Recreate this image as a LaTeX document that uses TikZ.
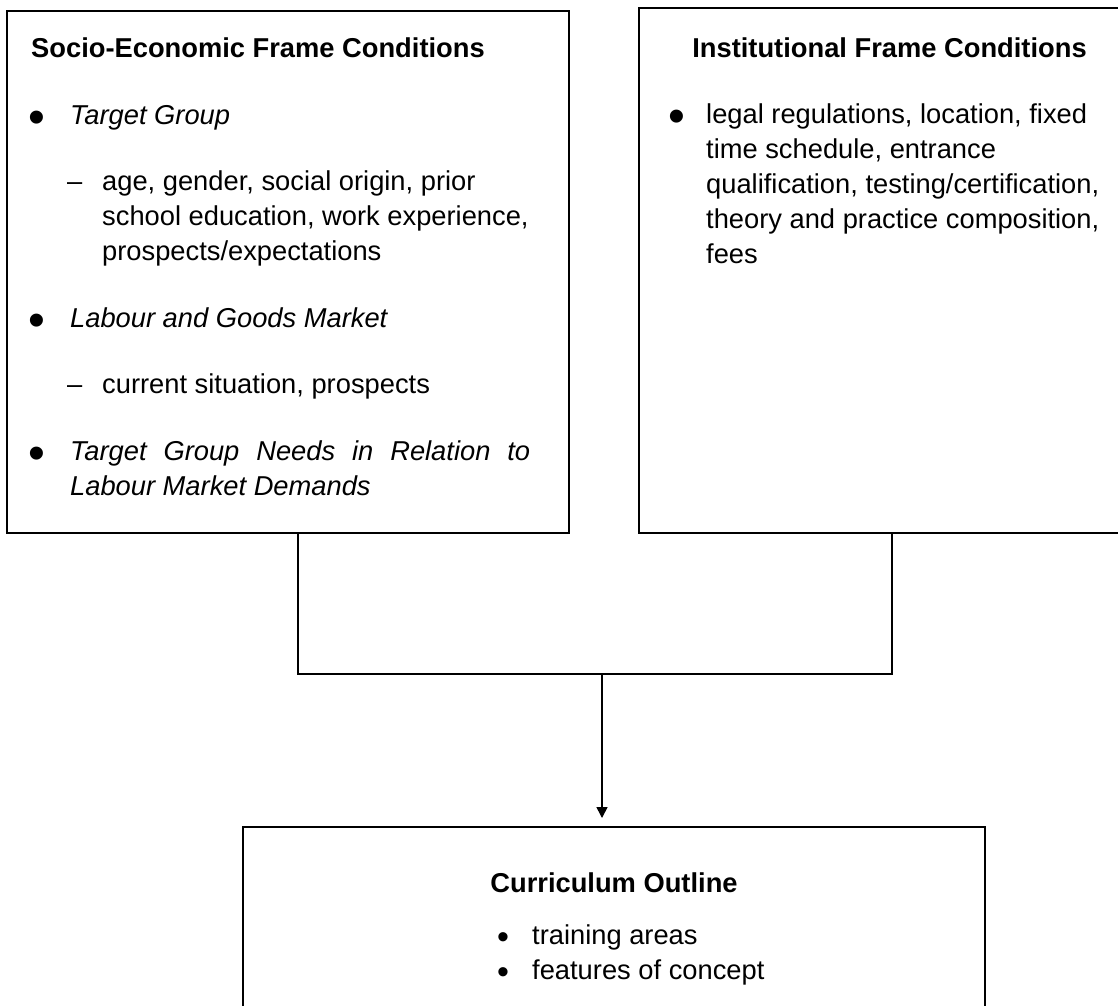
\documentclass[tikz,border=0pt]{standalone}
\usepackage{fontspec}
\setmainfont{Liberation Sans}
\usetikzlibrary{arrows.meta}
\newcommand{\mybul}{\smash{•}}
\begin{document}
\begin{tikzpicture}[x=1pt,y=-1pt,
  box/.style={draw, line width=1.6pt, rectangle, inner sep=0pt, anchor=north west},
  txt/.style={anchor=base west, inner sep=0pt, font=\fontsize{27.3}{35}\selectfont},
  ttl/.style={txt, font=\fontsize{27.3}{35}\selectfont\bfseries},
  itx/.style={txt, font=\fontsize{27.3}{35}\selectfont\itshape},
  bul/.style={anchor=base, inner sep=0pt, font=\fontsize{48}{50}\selectfont},
  sbul/.style={anchor=base, inner sep=0pt, font=\fontsize{34}{35}\selectfont},
  dsh/.style={txt},
  conn/.style={line width=1.6pt},
  arr/.style={conn, -{Triangle[length=11pt,width=11pt]}, shorten >=8pt},
]
\useasboundingbox (0,0) rectangle (1118,1005);
\clip (0,0) rectangle (1118,1005);
\fill[white] (0,0) rectangle (1118,1005);

% boxes
\node[box, minimum width=562pt, minimum height=522pt] (lbox) at (6,10) {};
\node[box, minimum width=503pt, minimum height=525pt] (rbox) at (638,7) {};
\node[box, minimum width=742pt, minimum height=230pt] (bbox) at (242,826) {};

% left box text
\node[ttl] (lt) at (31,57) {Socio-Economic Frame Conditions};
\node[bul] (lb1) at (37,133) {\mybul};
\node[itx] (l1) at (70,124) {Target Group};
\node[dsh] (ld1) at (67,190) {–};
\node[txt] (l1a) at (102,190) {age, gender, social origin, prior};
\node[txt] (l1b) at (102,225) {school education, work experience,};
\node[txt] (l1c) at (102,260) {prospects/expectations};
\node[bul] (lb2) at (37,336) {\mybul};
\node[itx] (l2) at (70,327) {Labour and Goods Market};
\node[dsh] (ld2) at (67,393) {–};
\node[txt] (l2a) at (102,393) {current situation, prospects};
\node[bul] (lb3) at (37,469) {\mybul};
\node[itx] (l3) at (70,460) {\makebox[460pt][s]{Target Group Needs in Relation to}};
\node[itx] (l3b) at (70,495) {Labour Market Demands};

% right box text
\node[ttl, anchor=base] (rt) at (889.5,57) {Institutional Frame Conditions};
\node[bul] (rb1) at (677,132) {\mybul};
\node[txt] (r1) at (706,123) {legal regulations, location, fixed};
\node[txt] (r2) at (706,158) {time schedule, entrance};
\node[txt] (r3) at (706,193) {qualification, testing/certification,};
\node[txt] (r4) at (706,228) {theory and practice composition,};
\node[txt] (r5) at (706,263) {fees};

% bottom box text
\node[ttl, anchor=base] (bt) at (614,892) {Curriculum Outline};
\node[sbul] (bb1) at (503,948.5) {\mybul};
\node[txt] (b1) at (532,944) {training areas};
\node[sbul] (bb2) at (503,983.5) {\mybul};
\node[txt] (b2) at (532,979) {features of concept};

% connectors
\coordinate (jl) at (298,674);
\coordinate (jr) at (892,674);
\coordinate (jm) at (602,674);
\draw[conn] (jl |- lbox.south) -- (jl) -- (jr) -- (jr |- rbox.south);
\draw[arr] (jm) -- (jm |- bbox.north);
\end{tikzpicture}
\end{document}
